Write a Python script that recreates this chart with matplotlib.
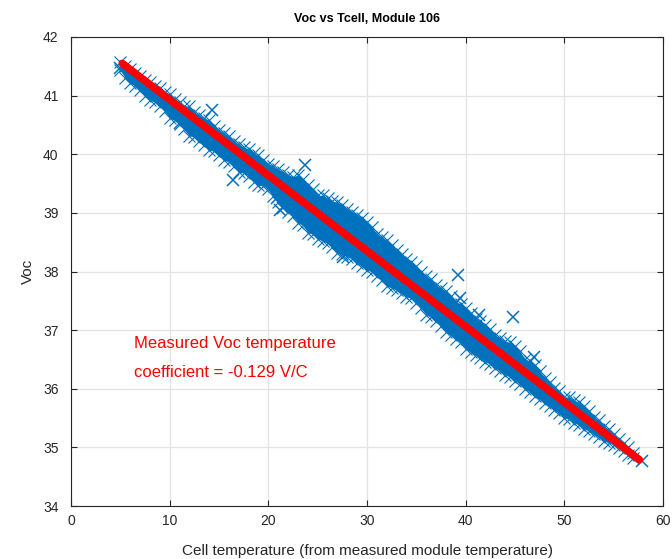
import matplotlib
matplotlib.use("Agg")
import matplotlib.pyplot as plt
import numpy as np

plt.rcParams['font.family'] = ['Liberation Sans', 'DejaVu Sans']

# Measured cloud: outline of the dense band of (Tcell, Voc) samples, every 0.5 C
band_t = [5.0, 5.5, 6.0, 6.5, 7.0, 7.5, 8.0, 8.5, 9.0, 9.5, 10.0, 10.5, 11.0, 11.5,
          12.0, 12.5, 13.0, 13.5, 14.0, 14.5, 15.0, 15.5, 16.0, 16.5, 17.0, 17.5,
          18.0, 18.5, 19.0, 19.5, 20.0, 20.5, 21.0, 21.5, 22.0, 22.5, 23.0, 23.5,
          24.0, 24.5, 25.0, 25.5, 26.0, 26.5, 27.0, 27.5, 28.0, 28.5, 29.0, 29.5,
          30.0, 30.5, 31.0, 31.5, 32.0, 32.5, 33.0, 33.5, 34.0, 34.5, 35.0, 35.5,
          36.0, 36.5, 37.0, 37.5, 38.0, 38.5, 39.0, 39.5, 40.0, 40.5, 41.0, 41.5,
          42.0, 42.5, 43.0, 43.5, 44.0, 44.5, 45.0, 45.5, 46.0, 46.5, 47.0, 47.5,
          48.0, 48.5, 49.0, 49.5, 50.0, 50.5, 51.0, 51.5, 52.0, 52.5, 53.0, 53.5,
          54.0, 54.5, 55.0, 55.5, 56.0, 56.5, 57.0]
band_hi = [41.58, 41.50, 41.46, 41.38, 41.34, 41.27, 41.24, 41.17, 41.13, 41.06,
           41.03, 40.94, 40.89, 40.83, 40.82, 40.72, 40.67, 40.62, 40.58, 40.48,
           40.41, 40.37, 40.31, 40.22, 40.17, 40.12, 40.09, 40.02, 39.98, 39.90,
           39.84, 39.80, 39.74, 39.70, 39.65, 39.62, 39.64, 39.58, 39.48, 39.40,
           39.30, 39.30, 39.25, 39.20, 39.18, 39.14, 39.07, 39.02, 38.97, 38.92,
           38.84, 38.76, 38.64, 38.59, 38.53, 38.46, 38.36, 38.30, 38.21, 38.17,
           38.10, 38.00, 37.92, 37.87, 37.77, 37.72, 37.66, 37.58, 37.48, 37.45,
           37.37, 37.30, 37.19, 37.16, 37.09, 37.02, 36.91, 36.87, 36.81, 36.79,
           36.73, 36.64, 36.51, 36.47, 36.40, 36.30, 36.19, 36.12, 36.02, 35.97,
           35.86, 35.86, 35.80, 35.77, 35.70, 35.62, 35.52, 35.46, 35.36, 35.31,
           35.22, 35.15, 35.07, 35.01, 34.90]
band_lo = [41.44, 41.30, 41.21, 41.17, 41.10, 40.99, 40.92, 40.89, 40.82, 40.74,
           40.61, 40.58, 40.51, 40.43, 40.31, 40.30, 40.22, 40.16, 40.07, 40.05,
           39.99, 39.90, 39.87, 39.80, 39.69, 39.68, 39.63, 39.53, 39.47, 39.46,
           39.40, 39.28, 39.19, 39.12, 39.02, 38.94, 38.83, 38.79, 38.66, 38.64,
           38.56, 38.52, 38.48, 38.41, 38.32, 38.30, 38.25, 38.22, 38.14, 38.09,
           38.03, 37.99, 37.92, 37.86, 37.75, 37.72, 37.68, 37.63, 37.57, 37.54,
           37.47, 37.38, 37.26, 37.22, 37.15, 37.07, 36.96, 36.92, 36.85, 36.79,
           36.67, 36.63, 36.57, 36.53, 36.46, 36.42, 36.35, 36.31, 36.24, 36.20,
           36.14, 36.08, 35.99, 35.95, 35.87, 35.82, 35.75, 35.70, 35.63, 35.58,
           35.50, 35.48, 35.42, 35.38, 35.32, 35.28, 35.22, 35.17, 35.11, 35.08,
           35.04, 34.99, 34.94, 34.87, 34.82]

# Isolated samples lying off the band
out_t = [5.0, 11.0, 14.3, 16.4, 20.9, 21.2, 21.5, 23.7, 27.6, 39.2, 39.4, 41.4,
         44.8, 46.9, 57.9]
out_v = [41.47, 40.53, 40.75, 39.56, 39.25, 39.05, 39.08, 39.82, 38.25, 37.94,
         37.55, 37.26, 37.22, 36.54, 34.76]

# Linear fit
coef = -0.129
intercept = 42.22
fit_t = np.array([5.2, 57.6])
fit_v = intercept + coef * fit_t

x_ticks = [0, 10, 20, 30, 40, 50, 60]
y_ticks = [34, 35, 36, 37, 38, 39, 40, 41, 42]

blue = '#0072BD'
ink = '#262626'

fig = plt.figure(figsize=(6.72, 5.59), dpi=100)
ax = fig.add_axes([71 / 672, 1 - 506 / 559, (663 - 71) / 672, (506 - 37) / 559])

ax.fill_between(band_t, band_lo, band_hi, color=blue, lw=0, zorder=2)
edge = dict(marker='x', ls='none', color=blue, ms=8, mew=0.8, zorder=3)
ax.plot(band_t, band_hi, **edge)
ax.plot(band_t, band_lo, **edge)
ax.plot(out_t, out_v, marker='x', ls='none', color=blue, ms=8.5, mew=1.1, zorder=3)
ax.plot(fit_t, fit_v, color='#FF0000', lw=5.5, solid_capstyle='round', zorder=4)

ax.text(6.4, 36.78, 'Measured Voc temperature', color='#FF0000', fontsize=12,
        va='center', ha='left')
ax.text(6.4, 36.28, 'coefficient = %.3f V/C' % coef, color='#FF0000', fontsize=12,
        va='center', ha='left')

ax.set_xlim(0, 60)
ax.set_ylim(34, 42)
ax.set_xticks(x_ticks)
ax.set_yticks(y_ticks)
ax.grid(True, color='#e3e3e3', lw=0.9, zorder=0)
ax.set_axisbelow(True)
ax.tick_params(direction='in', length=4.5, width=0.8, top=True, right=True,
               labelsize=10, colors=ink)
ax.tick_params(axis='y', pad=9)
ax.tick_params(axis='x', pad=6)
for s in ax.spines.values():
    s.set_color(ink)
    s.set_linewidth(0.8)

ax.set_title('Voc vs Tcell, Module 106', fontsize=9, fontweight='bold', pad=11)
ax.set_xlabel('Cell temperature (from measured module temperature)', fontsize=11,
              labelpad=11, color=ink)
ax.set_ylabel('Voc', fontsize=11, labelpad=6, color=ink)

fig.savefig('out.png', dpi=100)
